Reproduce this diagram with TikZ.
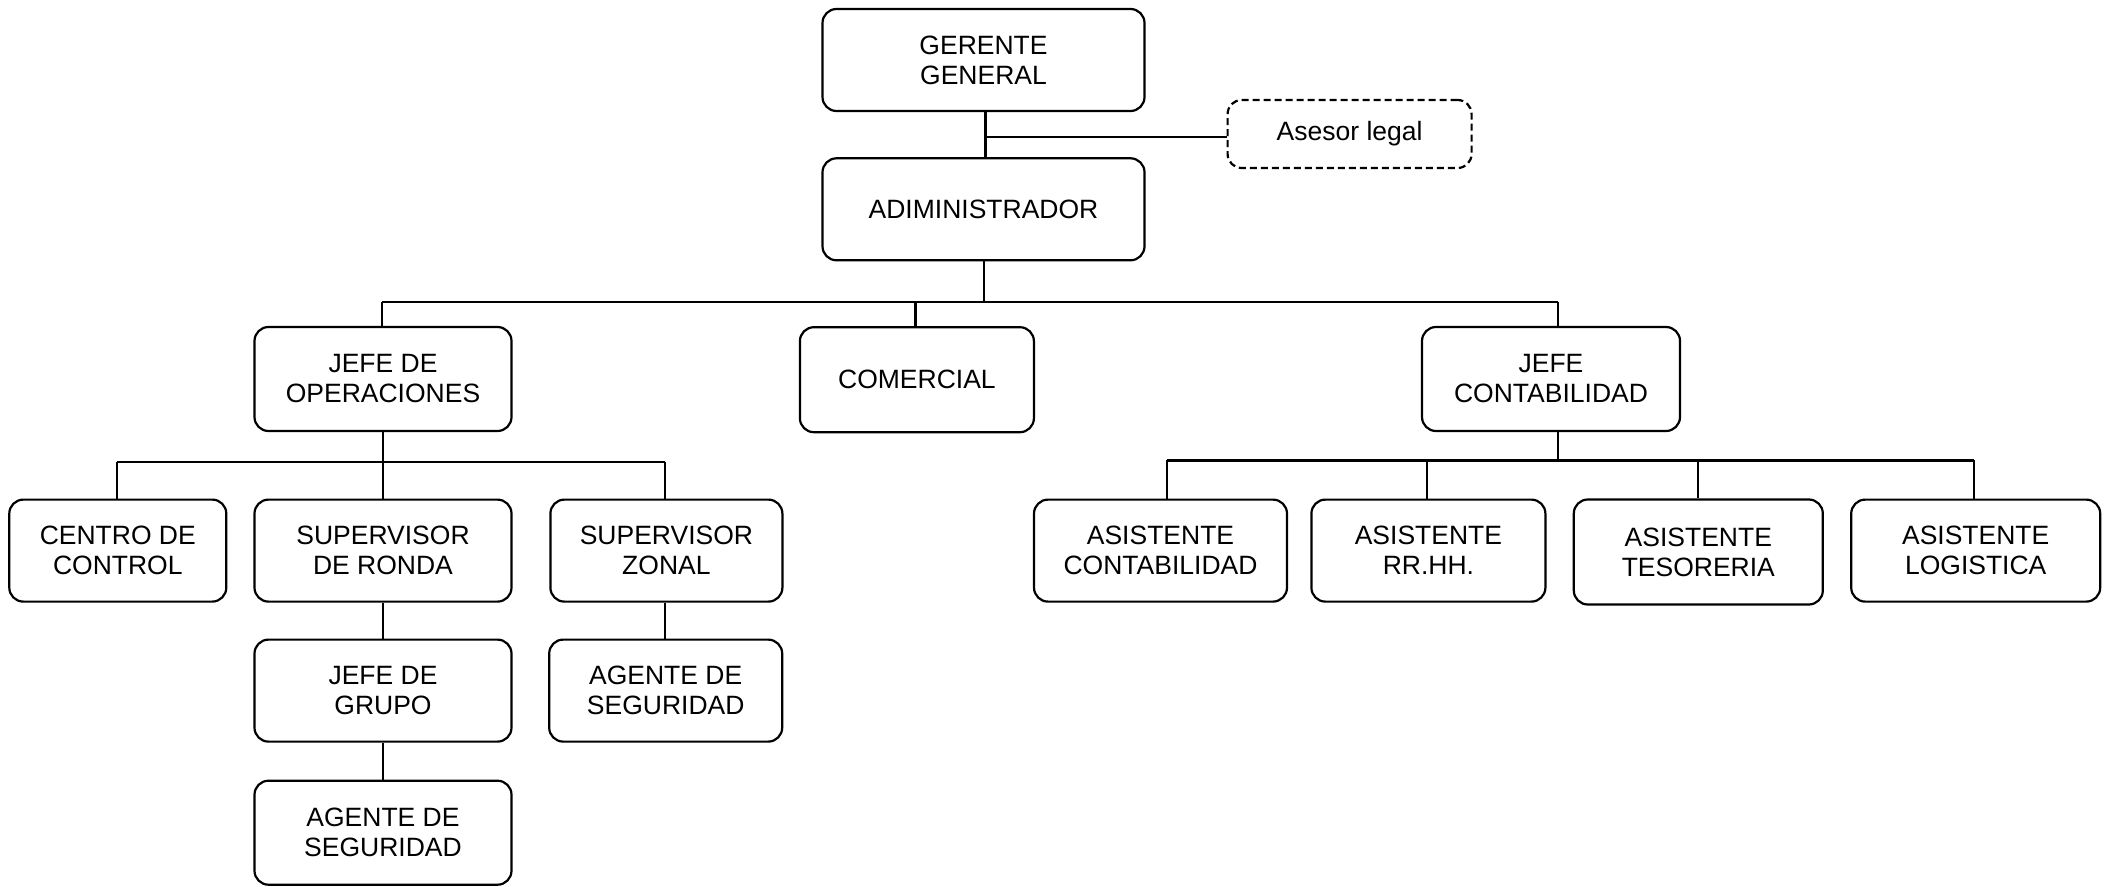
\documentclass[tikz,border=0pt]{standalone}
\usepackage{fontspec}
\setmainfont{Liberation Sans}
\begin{document}
\begin{tikzpicture}[x=1pt,y=-1pt,
  box/.style={draw,line width=2.2pt,rounded corners=14pt,inner sep=0pt,align=center,
    font=\fontsize{26.5}{30}\selectfont,minimum height=102pt},
  dbox/.style={box,dash pattern=on 7pt off 4pt,minimum height=68pt},
  con/.style={line width=2.2pt}]
\useasboundingbox (0,0) rectangle (2111,886);
% nodes
\node[box,minimum width=322pt] (gg) at (983.5,60) {GERENTE\\GENERAL};
\node[dbox,minimum width=244pt] (al) at (1349.6,134) {Asesor legal};
\node[box,minimum width=322pt] (adm) at (983.5,209.3) {ADIMINISTRADOR};
\node[box,minimum width=257pt,minimum height=104pt] (jo) at (383,379) {JEFE DE\\OPERACIONES};
\node[box,minimum width=234pt,minimum height=105pt] (com) at (916.9,379.7) {COMERCIAL};
\node[box,minimum width=258pt,minimum height=104pt] (jc) at (1551,379) {JEFE\\CONTABILIDAD};
\node[box,minimum width=217pt] (cc) at (117.8,550.6) {CENTRO DE\\CONTROL};
\node[box,minimum width=257pt] (sr) at (383,550.6) {SUPERVISOR\\DE RONDA};
\node[box,minimum width=232pt] (sz) at (666.4,550.6) {SUPERVISOR\\ZONAL};
\node[box,minimum width=257pt] (jg) at (383,690.6) {JEFE DE\\GRUPO};
\node[box,minimum width=233pt] (asz) at (665.7,690.6) {AGENTE DE\\SEGURIDAD};
\node[box,minimum width=257pt,minimum height=104pt] (asr) at (383,832.7) {AGENTE DE\\SEGURIDAD};
\node[box,minimum width=253pt] (ac) at (1160.5,550.6) {ASISTENTE\\CONTABILIDAD};
\node[box,minimum width=234pt] (ar) at (1428.4,550.6) {ASISTENTE\\RR.HH.};
\node[box,minimum width=249pt,minimum height=105pt] (at) at (1698.3,552) {ASISTENTE\\TESORERIA};
\node[box,minimum width=249pt] (alo) at (1975.7,550.6) {ASISTENTE\\LOGISTICA};
% coordinates
\coordinate (j1) at (985.5,137.3);
\coordinate (b0) at (984,301.6);
\coordinate (b1) at (382.3,301.6);
\coordinate (b2) at (915.5,301.6);
\coordinate (b3) at (1557.7,301.6);
\coordinate (o1) at (117,461.8);
\coordinate (o2) at (383,461.8);
\coordinate (o3) at (665,461.8);
\coordinate (c1) at (1167.2,460.4);
\coordinate (c2) at (1427,460.4);
\coordinate (c3) at (1557.7,460.4);
\coordinate (c4) at (1697.7,460.4);
\coordinate (c5) at (1973.7,460.4);
% connectors
\draw[con] (j1 |- gg.south) -- (j1 |- adm.north);
\draw[con] (j1) -- (j1 -| al.west);
\draw[con] (b0 |- adm.south) -- (b0);
\draw[con] (b1) -- (b3);
\draw[con] (b1) -- (b1 |- jo.north);
\draw[con] (b2) -- (b2 |- com.north);
\draw[con] (b3) -- (b3 |- jc.north);
\draw[con] (jo.south) -- (sr.north);
\draw[con] (o1) -- (o3);
\draw[con] (o1) -- (o1 |- cc.north);
\draw[con] (o3) -- (o3 |- sz.north);
\draw[con] (sr.south) -- (jg.north);
\draw[con] (jg.south) -- (asr.north);
\draw[con] (o3 |- sz.south) -- (o3 |- asz.north);
\draw[con] (c3 |- jc.south) -- (c3);
\draw[con] (c1) -- (c5);
\draw[con] (c1) -- (c1 |- ac.north);
\draw[con] (c2) -- (c2 |- ar.north);
\draw[con] (c4) -- (c4 |- at.north);
\draw[con] (c5) -- (c5 |- alo.north);
\end{tikzpicture}
\end{document}
